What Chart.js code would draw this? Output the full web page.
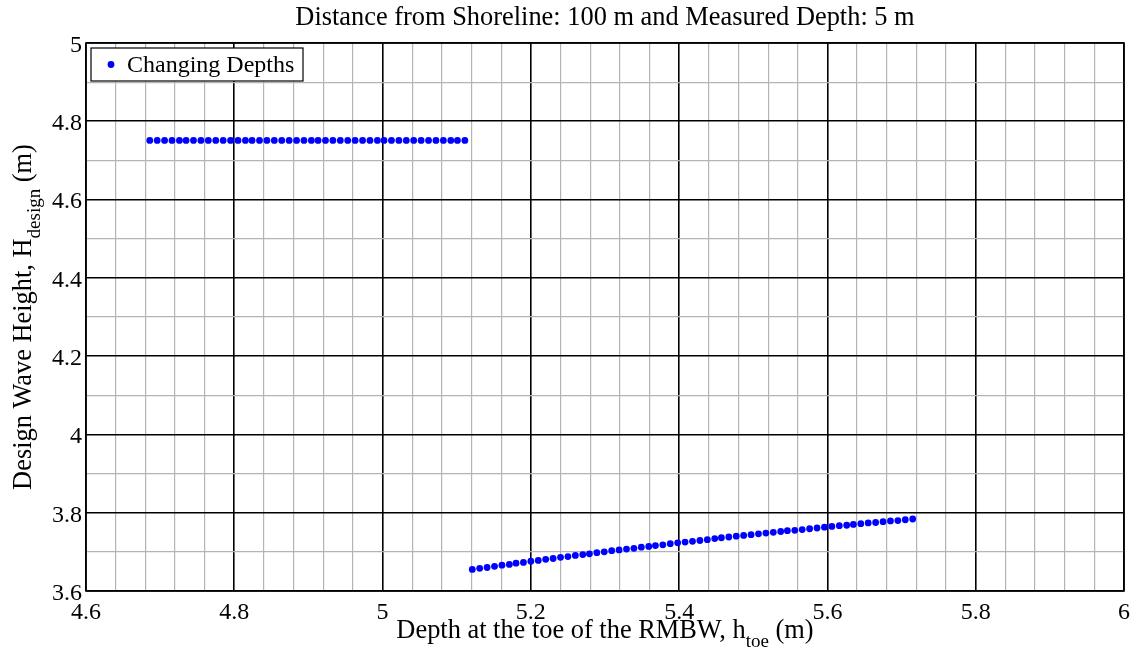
<!DOCTYPE html>
<html>
<head>
<meta charset="utf-8">
<script src="https://cdn.jsdelivr.net/npm/chart.js@4.4.1/dist/chart.umd.min.js"></script>
<style>
  html, body { margin: 0; padding: 0; background: #fff; }
  #wrap { width: 1141px; height: 659px; }
</style>
</head>
<body>
<div id="wrap"><canvas id="chart" width="1141" height="659"></canvas></div>
<script>
const titleText = "Distance from Shoreline: 100 m and Measured Depth: 5 m";
const seriesName = "Changing Depths";

// axis ticks (major) and their labels
const xTicks = [4.6, 4.8, 5, 5.2, 5.4, 5.6, 5.8, 6];
const xTickLabels = ["4.6", "4.8", "5", "5.2", "5.4", "5.6", "5.8", "6"];
const yTicks = [3.6, 3.8, 4, 4.2, 4.4, 4.6, 4.8, 5];
const yTickLabels = ["3.6", "3.8", "4", "4.2", "4.4", "4.6", "4.8", "5"];

// shallow branch: toe depth (m) and design wave height (m)
const upperDepth = [4.686, 4.696, 4.706, 4.716, 4.726, 4.735, 4.745, 4.755, 4.765, 4.775,
  4.785, 4.795, 4.805, 4.815, 4.824, 4.834, 4.844, 4.854, 4.864, 4.874,
  4.884, 4.894, 4.904, 4.913, 4.923, 4.933, 4.943, 4.953, 4.963, 4.973,
  4.983, 4.993, 5.002, 5.012, 5.022, 5.032, 5.042, 5.052, 5.062, 5.072,
  5.082, 5.092, 5.101, 5.111];
const upperHeight = [4.751, 4.751, 4.751, 4.751, 4.751, 4.751, 4.751, 4.751, 4.751, 4.751,
  4.751, 4.751, 4.751, 4.751, 4.751, 4.751, 4.751, 4.751, 4.751, 4.751,
  4.751, 4.751, 4.751, 4.751, 4.751, 4.751, 4.751, 4.751, 4.751, 4.751,
  4.751, 4.751, 4.751, 4.751, 4.751, 4.751, 4.751, 4.751, 4.751, 4.751,
  4.751, 4.751, 4.751, 4.751];

// deeper branch
const lowerDepth = [5.121, 5.131, 5.141, 5.151, 5.161, 5.171, 5.180, 5.190, 5.200, 5.210,
  5.220, 5.230, 5.240, 5.250, 5.260, 5.270, 5.279, 5.289, 5.299, 5.309,
  5.319, 5.329, 5.339, 5.349, 5.359, 5.368, 5.378, 5.388, 5.398, 5.408,
  5.418, 5.428, 5.438, 5.448, 5.457, 5.467, 5.477, 5.487, 5.497, 5.507,
  5.517, 5.527, 5.537, 5.546, 5.556, 5.566, 5.576, 5.586, 5.596, 5.606,
  5.616, 5.626, 5.635, 5.645, 5.655, 5.665, 5.675, 5.685, 5.695, 5.705,
  5.715];
const lowerHeight = [3.655, 3.658, 3.660, 3.663, 3.666, 3.668, 3.671, 3.673, 3.676, 3.678,
  3.681, 3.683, 3.686, 3.688, 3.691, 3.693, 3.695, 3.698, 3.700, 3.703,
  3.705, 3.707, 3.709, 3.712, 3.714, 3.716, 3.718, 3.721, 3.723, 3.725,
  3.727, 3.729, 3.731, 3.734, 3.736, 3.738, 3.740, 3.742, 3.744, 3.746,
  3.748, 3.750, 3.752, 3.754, 3.755, 3.757, 3.759, 3.761, 3.763, 3.765,
  3.767, 3.768, 3.770, 3.772, 3.774, 3.775, 3.777, 3.779, 3.780, 3.782,
  3.784];

const FONT = "'Times New Roman', 'Liberation Serif', serif";
const DOT = "#0000ff";
const LABEL_SIZE = 26.4;

const points = upperDepth.map((x, i) => ({ x: x, y: upperHeight[i] }))
  .concat(lowerDepth.map((x, i) => ({ x: x, y: lowerHeight[i] })));

// grid positions: each major interval split into n minor steps
function gridValues(major, n) {
  const out = [];
  for (let i = 0; i < major.length - 1; i++) {
    const step = (major[i + 1] - major[i]) / n;
    for (let j = 0; j < n; j++) out.push(major[i] + j * step);
  }
  out.push(major[major.length - 1]);
  return out;
}
function majorIndex(v, major) {
  return major.findIndex(t => Math.abs(t - v) < 1e-9);
}

function gridStyle(major) {
  return {
    drawTicks: false,
    color: ctx => (ctx.tick && majorIndex(ctx.tick.value, major) >= 0) ? "#000" : "#b4b4b4",
    lineWidth: ctx => (ctx.tick && majorIndex(ctx.tick.value, major) >= 0) ? 1.6 : 1.2
  };
}

// text with a subscript piece, centred on (0,0) of the current transform
function drawSubText(ctx, before, sub, after, size, subSize, subDrop) {
  ctx.font = size + "px " + FONT;
  const w1 = ctx.measureText(before).width;
  const w3 = ctx.measureText(after).width;
  ctx.font = subSize + "px " + FONT;
  const w2 = ctx.measureText(sub).width;
  let x = -(w1 + w2 + w3) / 2;
  ctx.textAlign = "left";
  ctx.textBaseline = "alphabetic";
  ctx.font = size + "px " + FONT;
  ctx.fillText(before, x, 0);
  x += w1;
  ctx.font = subSize + "px " + FONT;
  ctx.fillText(sub, x, subDrop);
  x += w2;
  ctx.font = size + "px " + FONT;
  ctx.fillText(after, x, 0);
}

const decorations = {
  id: "decorations",
  afterDraw(chart) {
    const ctx = chart.ctx;
    const a = chart.chartArea;
    ctx.save();
    ctx.fillStyle = "#000";

    // axes box
    ctx.strokeStyle = "#000";
    ctx.lineWidth = 1.6;
    ctx.strokeRect(a.left, a.top, a.right - a.left, a.bottom - a.top);

    // title
    ctx.font = LABEL_SIZE + "px " + FONT;
    ctx.textAlign = "center";
    ctx.textBaseline = "alphabetic";
    ctx.fillText(titleText, (a.left + a.right) / 2, 25);

    // x axis title
    ctx.save();
    ctx.translate((a.left + a.right) / 2, 638);
    drawSubText(ctx, "Depth at the toe of the RMBW, h", "toe", " (m)", LABEL_SIZE, 19, 9);
    ctx.restore();

    // y axis title
    ctx.save();
    ctx.translate(31, (a.top + a.bottom) / 2);
    ctx.rotate(-Math.PI / 2);
    drawSubText(ctx, "Design Wave Height, H", "design", " (m)", LABEL_SIZE, 19, 9);
    ctx.restore();

    // legend box
    const lx = a.left + 5, ly = a.top + 5, lw = 212, lh = 33;
    ctx.fillStyle = "#fff";
    ctx.fillRect(lx, ly, lw, lh);
    ctx.strokeStyle = "#000";
    ctx.lineWidth = 1.2;
    ctx.strokeRect(lx, ly, lw, lh);
    ctx.fillStyle = DOT;
    ctx.beginPath();
    ctx.arc(lx + 20, ly + lh / 2, 3.4, 0, Math.PI * 2);
    ctx.fill();
    ctx.fillStyle = "#000";
    ctx.font = "24px " + FONT;
    ctx.textAlign = "left";
    ctx.textBaseline = "middle";
    ctx.fillText(seriesName, lx + 36, ly + lh / 2 + 1);
    ctx.restore();
  }
};

new Chart(document.getElementById("chart"), {
  type: "scatter",
  data: {
    datasets: [{
      label: seriesName,
      data: points,
      showLine: false,
      pointRadius: 3.4,
      pointBorderWidth: 0,
      pointBackgroundColor: DOT,
      pointBorderColor: DOT
    }]
  },
  options: {
    responsive: false,
    animation: false,
    events: [],
    layout: { padding: { top: 43, right: 17, bottom: 0, left: 0 } },
    plugins: {
      legend: { display: false },
      title: { display: false },
      tooltip: { enabled: false }
    },
    scales: {
      x: {
        type: "linear",
        min: 4.6,
        max: 6,
        afterFit: s => { s.height = 68; },
        afterBuildTicks: s => { s.ticks = gridValues(xTicks, 5).map(v => ({ value: v })); },
        grid: gridStyle(xTicks),
        border: { display: false },
        ticks: {
          autoSkip: false,
          maxRotation: 0,
          padding: 7,
          color: "#000",
          font: { family: FONT, size: 24 },
          callback: v => { const i = majorIndex(v, xTicks); return i >= 0 ? xTickLabels[i] : ""; }
        }
      },
      y: {
        type: "linear",
        min: 3.6,
        max: 5,
        afterFit: s => { s.width = 86; },
        afterBuildTicks: s => { s.ticks = gridValues(yTicks, 2).map(v => ({ value: v })); },
        grid: gridStyle(yTicks),
        border: { display: false },
        ticks: {
          autoSkip: false,
          padding: 4,
          labelOffset: 2.5,
          color: "#000",
          font: { family: FONT, size: 24 },
          callback: v => { const i = majorIndex(v, yTicks); return i >= 0 ? yTickLabels[i] : ""; }
        }
      }
    }
  },
  plugins: [decorations]
});
</script>
</body>
</html>
